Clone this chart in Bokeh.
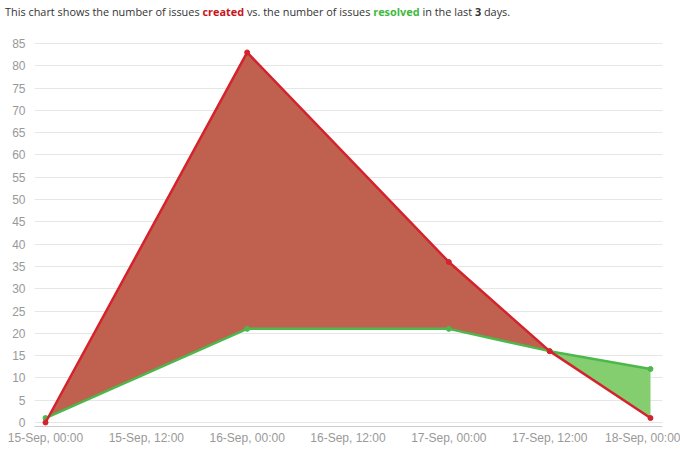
from bokeh.plotting import figure
from bokeh.layouts import column
from bokeh.models import ColumnDataSource, Div, FixedTicker, Range1d
from bokeh.embed import file_html
from bokeh.resources import INLINE

# hours since 15-Sep 00:00
hours = [0, 24, 48, 60, 72]
created = [0, 83, 36, 16, 1]
resolved = [1, 21, 21, 16, 12]

tick_hours = [0, 12, 24, 36, 48, 60, 72]
tick_labels = ["15-Sep, 00:00", "15-Sep, 12:00", "16-Sep, 00:00", "16-Sep, 12:00",
               "17-Sep, 00:00", "17-Sep, 12:00", "18-Sep, 00:00"]
y_ticks = list(range(0, 90, 5))

source = ColumnDataSource(dict(x=hours, created=created, resolved=resolved))

# created is above resolved up to the crossing point, then below
cross = 3
red_src = ColumnDataSource(dict(x=hours[:cross + 1], lo=resolved[:cross + 1], hi=created[:cross + 1]))
green_src = ColumnDataSource(dict(x=hours[cross:], lo=created[cross:], hi=resolved[cross:]))

intro = Div(
    text=('<div style="padding:5px 0 0 5px">This chart shows the number of issues '
          '<b style="color:#c8141e">created</b> vs. the number of issues '
          '<b style="color:#3fb83f">resolved</b> in the last <b>3</b> days.</div>'),
    width=680, height=24, margin=(0, 0, 0, 0),
    styles={"font-family": "Open Sans", "font-size": "10.9px", "color": "#333333",
            "line-height": "14px"},
)

p = figure(width=680, height=427, output_backend="svg", toolbar_location=None,
           x_range=Range1d(-1.31, 73.43), y_range=Range1d(-0.9, 85.9),
           min_border_left=34, min_border_right=18, min_border_top=15,
           min_border_bottom=25)
p.outline_line_color = None

p.varea(x="x", y1="lo", y2="hi", source=red_src, fill_color="#c0604f")
p.varea(x="x", y1="lo", y2="hi", source=green_src, fill_color="#84ce70")

p.line("x", "resolved", source=source, line_color="#4cb84c", line_width=2.5)
p.scatter("x", "resolved", source=source, size=5, color="#4cb84c")
p.line("x", "created", source=source, line_color="#d4232c", line_width=2.5)
p.scatter("x", "created", source=source, size=5, color="#d4232c")

p.xaxis.ticker = FixedTicker(ticks=tick_hours)
p.xaxis.major_label_overrides = dict(zip(tick_hours, tick_labels))
p.yaxis.ticker = FixedTicker(ticks=y_ticks)

for ax in (p.xaxis, p.yaxis):
    ax.major_label_text_font = "Liberation Sans"
    ax.major_label_text_font_size = "12px"
    ax.major_label_text_color = "#999999"
    ax.major_tick_line_color = None
    ax.major_tick_out = 0
    ax.major_tick_in = 0
    ax.minor_tick_line_color = None
    ax.minor_tick_out = 0

p.xaxis.axis_line_color = "#cccccc"
p.xaxis.major_label_standoff = 4
p.yaxis.axis_line_color = None
p.yaxis.major_label_standoff = 9

p.xgrid.grid_line_color = None
p.ygrid.grid_line_color = "#e6e6e6"

layout = column(intro, p)
open("out.html", "w").write(file_html(layout, INLINE))
